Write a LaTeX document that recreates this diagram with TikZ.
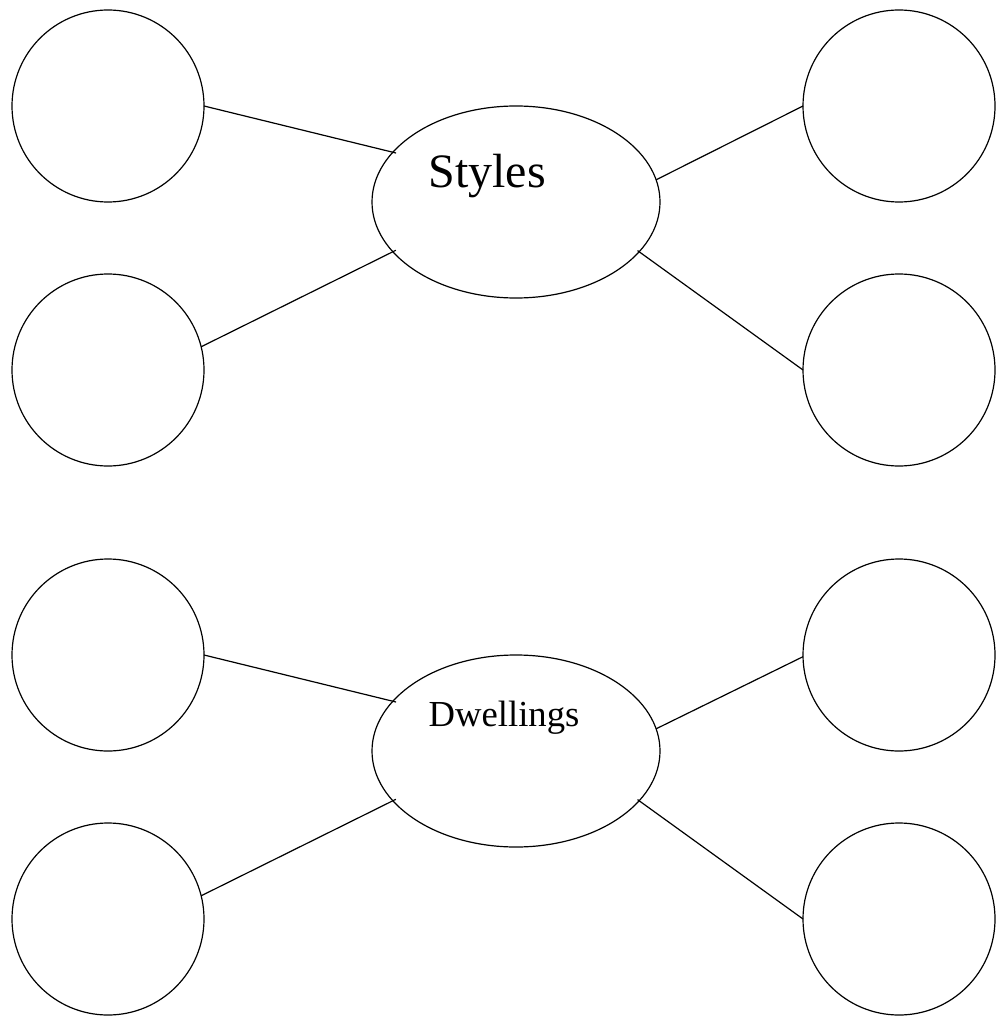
\documentclass[tikz,border=0pt]{standalone}
\usepackage{fontspec}
\setmainfont{Liberation Serif}
\usetikzlibrary{shapes.geometric}
\begin{document}
\begin{tikzpicture}[x=0.75pt,y=-0.75pt,
  bubble/.style={circle,draw,line width=0.9pt,minimum size=144pt,inner sep=0pt,outer sep=0pt},
  hub/.style={ellipse,draw,line width=0.9pt,minimum width=216pt,minimum height=144pt,inner sep=0pt,outer sep=0pt},
  link/.style={line width=0.9pt},
  lbl/.style={inner sep=0pt,anchor=base}]
\useasboundingbox (0,0) rectangle (997,1016);
% top group
\node[hub] (S) at (516,202) {};
\node[lbl,font=\fontsize{36}{40}\selectfont] (St) at (487,188) {Styles};
\node[bubble] (L1) at (108,106) {};
\node[bubble] (L2) at (108,370) {};
\node[bubble] (R1) at (899,106) {};
\node[bubble] (R2) at (899,370) {};
\draw[link,shorten >=-2.5pt] (L1.0) -- (S.158);
\draw[link,shorten >=-2.5pt] (L2.14) -- (S.202.4);
\draw[link] (R1.180) -- (S.9.5);
\draw[link,shorten >=-1.5pt] (R2.180) -- (S.-22.2);
% bottom group
\node[hub] (D) at (516,751) {};
\node[lbl,font=\fontsize{27.5}{32}\selectfont] (Dt) at (504,726) {Dwellings};
\node[bubble] (L3) at (108,655) {};
\node[bubble] (L4) at (108,919) {};
\node[bubble] (R3) at (899,655) {};
\node[bubble] (R4) at (899,919) {};
\draw[link,shorten >=-2.5pt] (L3.0) -- (D.158.5);
\draw[link,shorten >=-2.5pt] (L4.14) -- (D.202.4);
\draw[link] (R3.181) -- (D.9.5);
\draw[link,shorten >=-1.5pt] (R4.180) -- (D.-22.2);
\end{tikzpicture}
\end{document}
